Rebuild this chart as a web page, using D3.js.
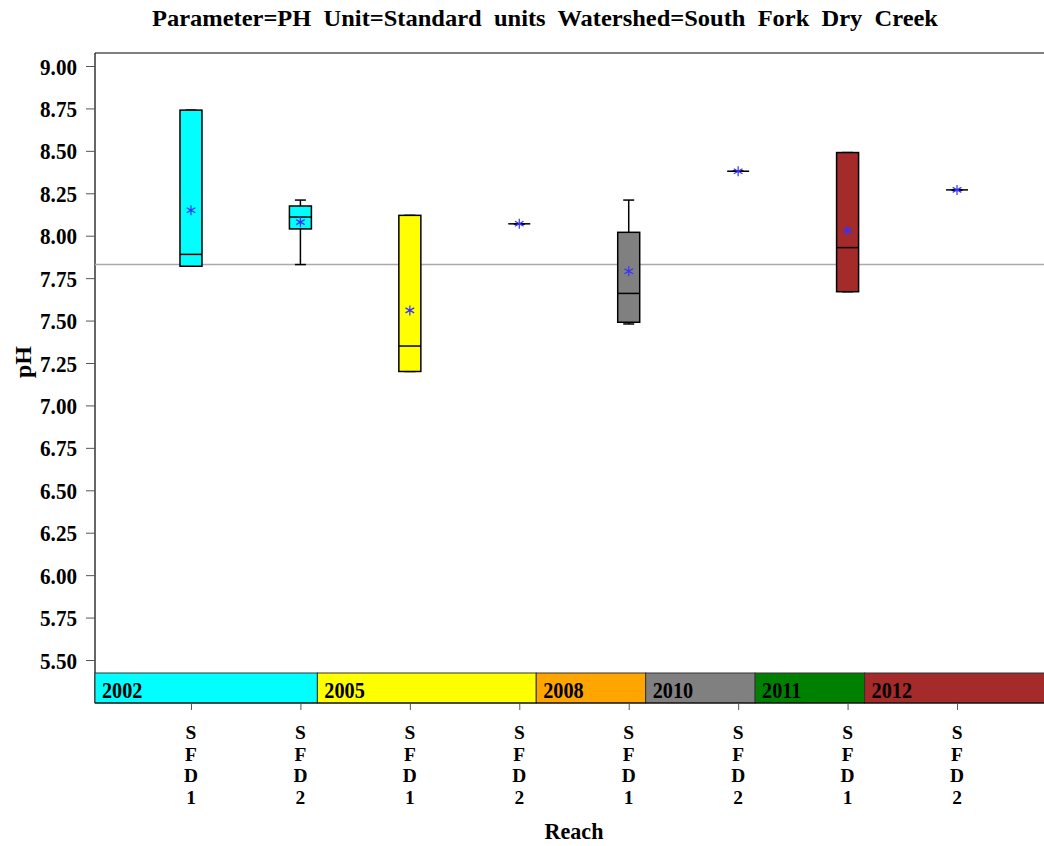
<!DOCTYPE html>
<html>
<head>
<meta charset="utf-8">
<script src="https://cdn.jsdelivr.net/npm/d3@7"></script>
<style>
  html, body { margin: 0; padding: 0; background: #fff; }
  svg { display: block; }
  text { font-family: "Liberation Serif", "DejaVu Serif", serif; font-weight: bold; fill: #000; }
</style>
</head>
<body>
<svg id="chart" width="1044" height="846"></svg>
<script>
// ---- data ----
const reaches   = ["SFD1","SFD2","SFD1","SFD2","SFD1","SFD2","SFD1","SFD2"];
const boxYears  = ["2002","2002","2005","2005","2010","2010","2012","2012"];
const bandYears = ["2002","2002","2005","2005","2008","2010","2011","2012"];
const mins    = [7.82, 7.83, 7.20, 8.07, 7.48, 8.38, 7.67, 8.27];
const q1s     = [7.82, 8.04, 7.20, 8.07, 7.49, 8.38, 7.67, 8.27];
const medians = [7.89, 8.11, 7.35, 8.07, 7.66, 8.38, 7.93, 8.27];
const q3s     = [8.74, 8.175, 8.12, 8.07, 8.02, 8.38, 8.49, 8.27];
const maxs    = [8.74, 8.21, 8.12, 8.07, 8.21, 8.38, 8.49, 8.27];
const means   = [8.15, 8.08, 7.56, 8.07, 7.79, 8.38, 8.03, 8.27];
const refValue = 7.83;
const yTicks = [5.50,5.75,6.00,6.25,6.50,6.75,7.00,7.25,7.50,7.75,8.00,8.25,8.50,8.75,9.00];
const yearColors = {"2002":"#00ffff","2005":"#ffff00","2008":"#ffa500","2010":"#808080","2011":"#008000","2012":"#a52a2a"};
const titleText = "Parameter=PH  Unit=Standard  units  Watershed=South  Fork  Dry  Creek";
const xTitle = "Reach";
const yTitle = "pH";

(function () {
const svg = d3.select("#chart");
const pL = 95, pR = 1053, pT = 53, pB = 703;
const bandTop = 673;

const idx = d3.range(reaches.length);
const x = d3.scalePoint().domain(idx).range([pL, pR]).padding(0.877);
const step = x.step();
const y = d3.scaleLinear().domain([5.5, 9.0]).range([660, 66]);

function ctext(parent, tx, ty, str, size, sx, anchor) {
  return parent.append("text")
    .attr("transform", `translate(${tx},${ty}) scale(${sx},1)`)
    .attr("text-anchor", anchor || "start")
    .style("font-size", size + "px")
    .text(str);
}

// title
svg.append("text")
  .attr("x", 545).attr("y", 26)
  .attr("text-anchor", "middle")
  .style("font-size", "23px")
  .style("white-space", "pre")
  .attr("textLength", 786).attr("lengthAdjust", "spacingAndGlyphs")
  .text(titleText);

// frame
svg.append("line").attr("x1", pL).attr("x2", pR).attr("y1", pT).attr("y2", pT).attr("stroke", "#000").attr("stroke-width", 1);
svg.append("line").attr("x1", pL).attr("x2", pL).attr("y1", pT).attr("y2", pB).attr("stroke", "#000").attr("stroke-width", 1.2);

// y axis
const yAxis = d3.axisLeft(y).tickValues(yTicks).tickFormat(d3.format(".2f")).tickSize(9).tickPadding(8);
const gy = svg.append("g").attr("transform", `translate(${pL},0)`).call(yAxis);
gy.select(".domain").remove();
gy.selectAll(".tick line").attr("stroke", "#555");
gy.selectAll(".tick text")
  .attr("x", null).attr("dy", null)
  .attr("transform", "translate(-18,8) scale(0.88,1)")
  .style("font-size", "24px").style("font-family", "'Liberation Serif', serif").style("font-weight", "bold").attr("fill", "#000");

svg.append("text")
  .attr("transform", `translate(31,362) rotate(-90)`)
  .attr("text-anchor", "middle")
  .style("font-size", "24px")
  .text(yTitle);

// reference line
svg.append("line")
  .attr("x1", pL).attr("x2", pR)
  .attr("y1", y(refValue)).attr("y2", y(refValue))
  .attr("stroke", "#aaaaaa").attr("stroke-width", 1.5);

// boxes
const bw = 22, cw = 11;
const g = svg.append("g");
idx.forEach(i => {
  const cx = x(i);
  g.append("line").attr("x1", cx).attr("x2", cx).attr("y1", y(maxs[i])).attr("y2", y(q3s[i])).attr("stroke", "#000").attr("stroke-width", 1.5);
  g.append("line").attr("x1", cx).attr("x2", cx).attr("y1", y(q1s[i])).attr("y2", y(mins[i])).attr("stroke", "#000").attr("stroke-width", 1.5);
  [maxs[i], mins[i]].forEach(v => {
    g.append("line").attr("x1", cx - cw/2).attr("x2", cx + cw/2).attr("y1", y(v)).attr("y2", y(v)).attr("stroke", "#000").attr("stroke-width", 1.5);
  });
  g.append("rect")
    .attr("x", cx - bw/2).attr("width", bw)
    .attr("y", y(q3s[i])).attr("height", Math.max(0, y(q1s[i]) - y(q3s[i])))
    .attr("fill", yearColors[boxYears[i]])
    .attr("stroke", "#000").attr("stroke-width", 1.5);
  g.append("line").attr("x1", cx - bw/2).attr("x2", cx + bw/2).attr("y1", y(medians[i])).attr("y2", y(medians[i])).attr("stroke", "#000").attr("stroke-width", 1.5);
  g.append("path")
    .attr("transform", `translate(${cx},${y(means[i])})`)
    .attr("d", d3.symbol(d3.symbolAsterisk, 70)())
    .attr("fill", "none").attr("stroke", "#3333ff").attr("stroke-width", 1.2);
});

// band (block plot)
const bandOffset = step * 0.155;
const blocks = [];
idx.forEach(i => {
  if (i === 0 || bandYears[i] !== bandYears[i-1]) {
    blocks.push({year: bandYears[i], start: i, end: i});
  } else {
    blocks[blocks.length-1].end = i;
  }
});
blocks.forEach(b => {
  const x0 = b.start === 0 ? pL : x(b.start - 1) + bandOffset;
  const x1 = b.end === idx.length - 1 ? pR : x(b.end) + bandOffset;
  svg.append("rect")
    .attr("x", x0).attr("y", bandTop).attr("width", x1 - x0).attr("height", pB - bandTop)
    .attr("fill", yearColors[b.year]).attr("stroke", "#333").attr("stroke-width", 1);
  ctext(svg, x0 + 7, pB - 5, b.year, 23, 0.88);
});
svg.append("line").attr("x1", pL).attr("x2", pR).attr("y1", pB).attr("y2", pB).attr("stroke", "#000").attr("stroke-width", 1);

// x axis
const xAxis = d3.axisBottom(x).tickSize(7).tickFormat("");
const gx = svg.append("g").attr("transform", `translate(0,${pB})`).call(xAxis);
gx.select(".domain").remove();
gx.selectAll(".tick line").attr("stroke", "#555");

// stacked (vertical) category labels
idx.forEach(i => {
  reaches[i].split("").forEach((ch, j) => {
    ctext(svg, x(i), 739 + j * 21.7, ch, 18.5, 1.05, "middle");
  });
});

ctext(svg, 574, 839, xTitle, 24, 0.92, "middle");
})();
</script>
</body>
</html>
